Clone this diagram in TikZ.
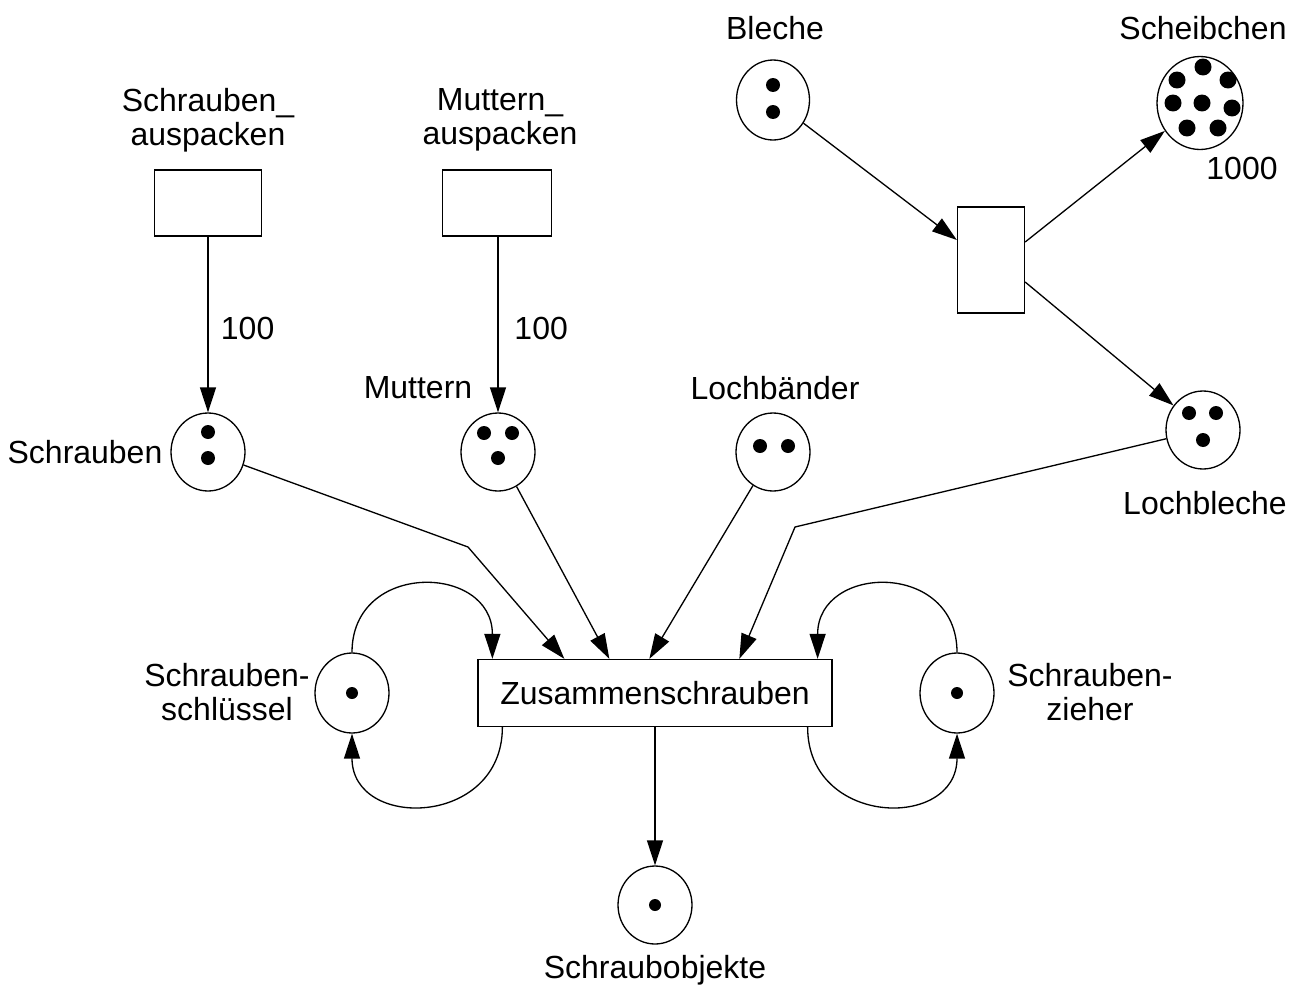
\documentclass[tikz,border=0pt]{standalone}
\usepackage{fontspec}
\setmainfont{Liberation Sans}
\usetikzlibrary{arrows.meta,shapes.geometric}

\begin{document}
\begin{tikzpicture}[
  x=0.02cm, y=-0.02cm,
  font=\fontsize{18.2}{19.4}\selectfont,
  place/.style={draw, ellipse, line width=0.75pt, minimum width=1.48cm,
                minimum height=1.56cm, inner sep=0pt},
  trans/.style={draw, rectangle, line width=0.75pt, inner sep=0pt},
  lab/.style={align=center, inner sep=0pt},
  arr/.style={-{Triangle[length=0.5cm, width=0.32cm]}, line width=0.75pt}
]
\useasboundingbox (0,0) rectangle (1298,987);

% transitions
\node[trans, minimum width=2.14cm, minimum height=1.32cm] (tschr) at (208,203) {};
\node[trans, minimum width=2.18cm, minimum height=1.32cm] (tmutt) at (497,203) {};
\node[trans, minimum width=1.34cm, minimum height=2.12cm] (tblech) at (991,260) {};
\node[trans, minimum width=7.08cm, minimum height=1.34cm] (zus) at (655,693) {Zusammenschrauben};

% places
\node[place, minimum width=1.46cm, minimum height=1.6cm] (blech) at (773,100) {};
\node[place, minimum width=1.72cm, minimum height=1.86cm] (scheib) at (1200,103) {};
\node[place] (schr) at (208,452) {};
\node[place] (mutt) at (498,452) {};
\node[place] (loch) at (773,452) {};
\node[place] (lblech) at (1203,430) {};
\node[place, minimum height=1.6cm] (schl) at (352,693) {};
\node[place, minimum height=1.6cm] (zieh) at (957,693) {};
\node[place] (objekte) at (655,905) {};

% tokens
\fill (773,85) circle (0.14cm) (773,112) circle (0.14cm);
\fill (208,432) circle (0.14cm) (208,458) circle (0.14cm);
\fill (484,433) circle (0.14cm) (512,433) circle (0.14cm) (498,458) circle (0.14cm);
\fill (760,446) circle (0.14cm) (788,446) circle (0.14cm);
\fill (1189,413) circle (0.14cm) (1216,413) circle (0.14cm) (1203,440) circle (0.14cm);
\foreach \p in {(1203,67),(1177,80),(1228,80),(1173,103),(1202,103),(1232,108),(1187,128),(1218,128)}
  \fill \p circle (0.17cm);
\fill (352,693) circle (0.12cm);
\fill (957,693) circle (0.12cm);
\fill (655,905) circle (0.12cm);

% labels
\node[lab] (lschr) at (208,120) {Schrauben\_\\auspacken};
\node[lab] (lmutt) at (500,120) {Muttern\_\\auspacken};
\node[lab] (lblechl) at (775,28) {Bleche};
\node[lab] (lscheib) at (1203,28) {Scheibchen};
\node[lab] (l1000) at (1242,168) {1000};
\node[lab] (lschrp) at (85,452) {Schrauben};
\node[lab] (lmuttp) at (418,388) {Muttern};
\node[lab] (lloch) at (775,388) {Lochbänder};
\node[lab] (llblech) at (1205,503) {Lochbleche};
\node[lab] (lschl) at (227,692) {Schrauben-\\schlüssel};
\node[lab] (lzieh) at (1090,692) {Schrauben-\\zieher};
\node[lab] (lobj) at (655,970) {Schraubobjekte};

% arcs
\draw[arr] (tschr) -- node[lab, pos=0.52, right=7pt]{100} (schr);
\draw[arr] (tmutt.south -| mutt) -- node[lab, pos=0.52, right=9pt]{100} (mutt);
\draw[arr] (blech) -- ([yshift=0.4cm]tblech.west);
\draw[arr] ([yshift=0.36cm]tblech.east) -- (scheib);
\draw[arr] ([yshift=-0.44cm]tblech.east) -- (lblech);

\coordinate (k1) at (468,547);
\coordinate (k2) at (795,527);
\draw[arr] (schr) -- (k1) -- ([xshift=1.74cm]zus.north west);
\draw[arr] (mutt) -- ([xshift=2.64cm]zus.north west);
\draw[arr] (loch) -- ([xshift=3.44cm]zus.north west);
\draw[arr] (lblech) -- (k2) -- ([xshift=5.24cm]zus.north west);
\draw[arr] (objekte.north |- zus.south) -- (objekte);

% loops
\draw[arr] (schl.north) .. controls +(0,-92) and +(0,-95) .. ([xshift=0.3cm]zus.north west);
\draw[arr] ([xshift=0.5cm]zus.south west) .. controls +(0,100) and +(0,97) .. (schl.south);
\draw[arr] (zieh.north) .. controls +(0,-92) and +(0,-95) .. ([xshift=-0.3cm]zus.north east);
\draw[arr] ([xshift=-0.5cm]zus.south east) .. controls +(0,100) and +(0,97) .. (zieh.south);
\end{tikzpicture}
\end{document}
